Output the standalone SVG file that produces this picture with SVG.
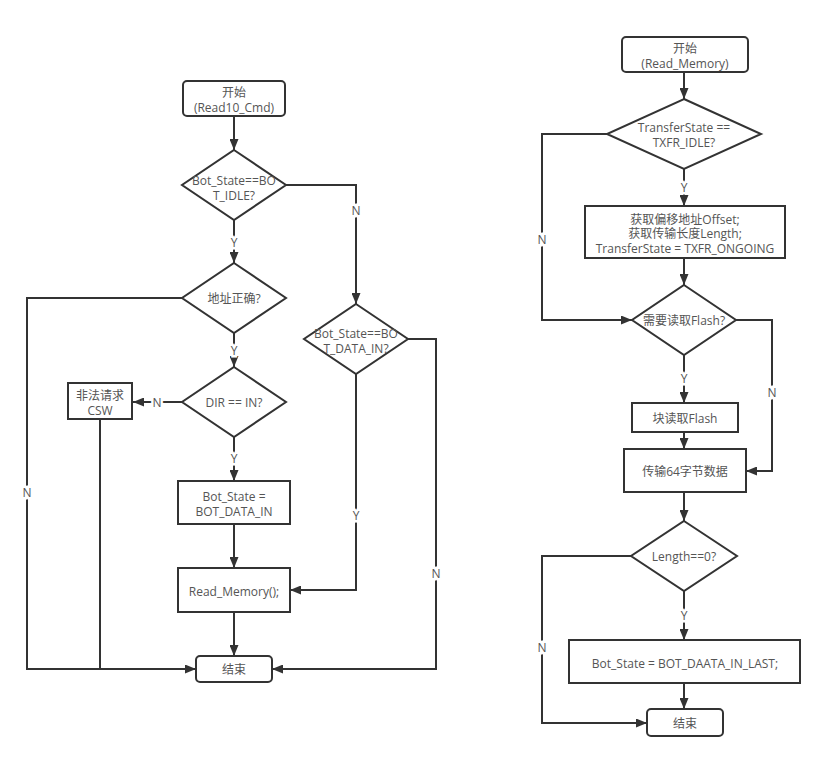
<svg xmlns="http://www.w3.org/2000/svg" width="821" height="757" viewBox="0 0 821 757">
<defs>
<marker id="ah" markerUnits="userSpaceOnUse" markerWidth="11" markerHeight="9" refX="11" refY="4.5" orient="auto">
<path d="M0,0 L11,4.5 L0,9 z" fill="#333"/>
</marker>
<style>
.n{fill:#fff;stroke:#333;stroke-width:2}
.t{font-family:"Open Sans","Noto Sans CJK SC",sans-serif;font-size:12px;fill:#555;text-anchor:middle;dominant-baseline:central}
.c{fill:none;stroke:#333;stroke-width:2;marker-end:url(#ah)}
.p{fill:none;stroke:#333;stroke-width:2}
.l{font-family:"Open Sans","Noto Sans CJK SC",sans-serif;font-size:12px;fill:#555;text-anchor:middle;dominant-baseline:central;stroke:#fff;stroke-width:5;paint-order:stroke}
</style>
</defs>
<rect width="821" height="757" fill="#fff"/>
<g id="connectors">
<path class="c" d="M234,116 V150"/>
<path class="c" d="M234,220 V263"/>
<path class="c" d="M286,185 H356 V304"/>
<path class="c" d="M182,298 H27 V669 H196"/>
<path class="c" d="M234,333 V367"/>
<path class="c" d="M182,402 H133"/>
<path class="c" d="M234,437 V481"/>
<path class="p" d="M100,419 V669"/>
<path class="c" d="M234,524 V568"/>
<path class="c" d="M356,374 V590 H290"/>
<path class="c" d="M234,612 V656"/>
<path class="c" d="M408,339 H436 V669 H272"/>
<path class="c" d="M684,72 V99"/>
<path class="c" d="M684,169 V206"/>
<path class="c" d="M607,134 H542 V320 H632"/>
<path class="c" d="M684,258 V285"/>
<path class="c" d="M684,355 V403"/>
<path class="c" d="M684,432 V449"/>
<path class="c" d="M736,320 H772 V471 H746"/>
<path class="c" d="M684,492 V521"/>
<path class="c" d="M684,591 V640"/>
<path class="c" d="M684,683 V709"/>
<path class="c" d="M631,556 H542 V723 H647"/>
<text class="l" x="234" y="242">Y</text>
<text class="l" x="356" y="210">N</text>
<text class="l" x="27" y="492">N</text>
<text class="l" x="234" y="350">Y</text>
<text class="l" x="157" y="402">N</text>
<text class="l" x="234" y="458">Y</text>
<text class="l" x="356" y="515">Y</text>
<text class="l" x="436" y="573">N</text>
<text class="l" x="684" y="187">Y</text>
<text class="l" x="542" y="239">N</text>
<text class="l" x="684" y="378">Y</text>
<text class="l" x="772" y="392">N</text>
<text class="l" x="684" y="615">Y</text>
<text class="l" x="542" y="647">N</text>
</g>
<g id="start1"><rect class="n" x="183" y="81" width="102" height="35" rx="4"/><text class="t" x="234" y="92">开始</text><text class="t" x="234" y="107">(Read10_Cmd)</text></g>
<g id="dec1"><polygon class="n" points="234,150 286,185 234,220 182,185"/><text class="t" x="234" y="180">Bot_State==BO</text><text class="t" x="234" y="195">T_IDLE?</text></g>
<g id="dec2"><polygon class="n" points="234,263 286,298 234,333 182,298"/><text class="t" x="234" y="298">地址正确?</text></g>
<g id="dec3"><polygon class="n" points="234,367 286,402 234,437 182,402"/><text class="t" x="234" y="402">DIR == IN?</text></g>
<g id="csw"><rect class="n" x="68" y="383" width="64" height="36"/><text class="t" x="100" y="395">非法请求</text><text class="t" x="100" y="410">CSW</text></g>
<g id="dec4"><polygon class="n" points="356,304 408,339 356,374 304,339"/><text class="t" x="356" y="333">Bot_State==BO</text><text class="t" x="356" y="348">T_DATA_IN?</text></g>
<g id="setstate"><rect class="n" x="178" y="481" width="112" height="43"/><text class="t" x="234" y="496">Bot_State =</text><text class="t" x="234" y="511">BOT_DATA_IN</text></g>
<g id="readmem"><rect class="n" x="178" y="568" width="112" height="44"/><text class="t" x="234" y="591">Read_Memory();</text></g>
<g id="end1"><rect class="n" x="196" y="656" width="76" height="26" rx="4"/><text class="t" x="234" y="669">结束</text></g>
<g id="start2"><rect class="n" x="622" y="37" width="126" height="35" rx="4"/><text class="t" x="685" y="48">开始</text><text class="t" x="685" y="63">(Read_Memory)</text></g>
<g id="decT"><polygon class="n" points="684,99 761,134 684,169 607,134"/><text class="t" x="684" y="127">TransferState ==</text><text class="t" x="684" y="142">TXFR_IDLE?</text></g>
<g id="getinfo"><rect class="n" x="585" y="206" width="200" height="52"/><text class="t" x="685" y="219">获取偏移地址Offset;</text><text class="t" x="685" y="233">获取传输长度Length;</text><text class="t" x="685" y="248">TransferState = TXFR_ONGOING</text></g>
<g id="decF"><polygon class="n" points="684,285 736,320 684,355 632,320"/><text class="t" x="684" y="320">需要读取Flash?</text></g>
<g id="readflash"><rect class="n" x="632" y="403" width="106" height="29"/><text class="t" x="685" y="418">块读取Flash</text></g>
<g id="trans"><rect class="n" x="624" y="449" width="122" height="43"/><text class="t" x="685" y="471">传输64字节数据</text></g>
<g id="decL"><polygon class="n" points="684,521 737,556 684,591 631,556"/><text class="t" x="684" y="556">Length==0?</text></g>
<g id="setlast"><rect class="n" x="569" y="640" width="231" height="43"/><text class="t" x="685" y="663">Bot_State = BOT_DAATA_IN_LAST;</text></g>
<g id="end2"><rect class="n" x="647" y="709" width="76" height="27" rx="4"/><text class="t" x="685" y="723">结束</text></g>
</svg>
